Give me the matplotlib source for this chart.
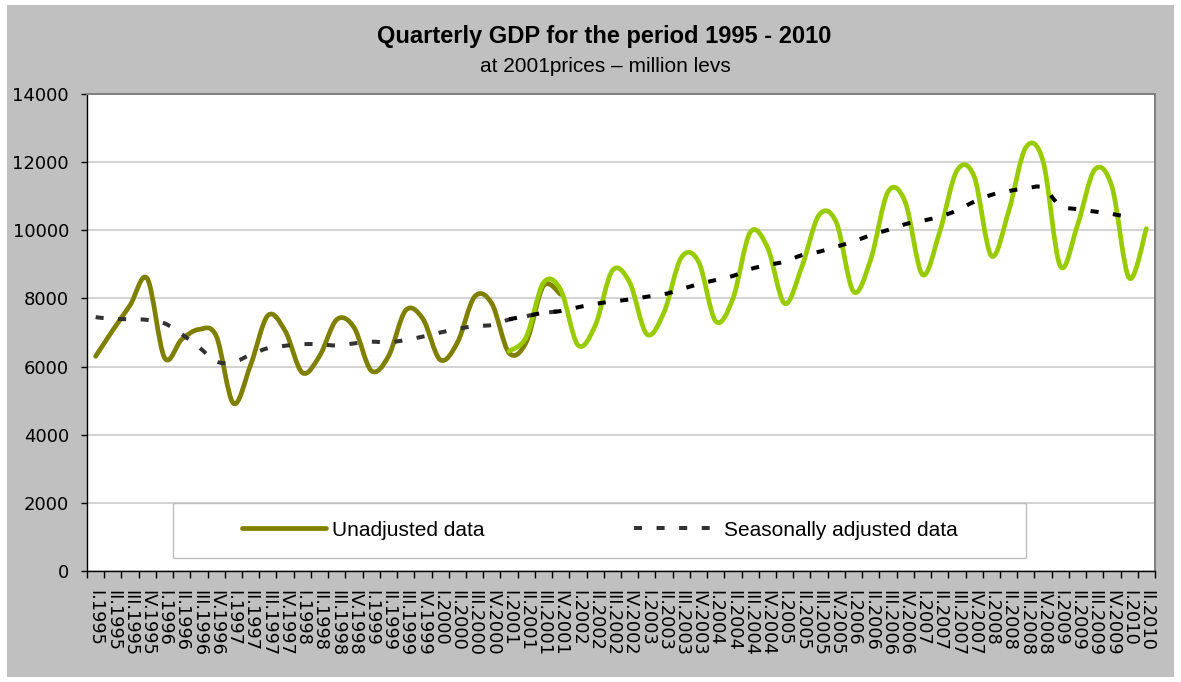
import numpy as np
import matplotlib
matplotlib.use("Agg")
import matplotlib.pyplot as plt
from matplotlib.path import Path
from matplotlib.patches import PathPatch, Rectangle
from matplotlib.lines import Line2D

# ---------------- data ----------------
years = list(range(1995, 2011))
roman = ["I", "II", "III", "IV"]
quarter_labels = [f"{r}.{y}" for y in years for r in roman][:62]  # I.1995 .. II.2010

# Unadjusted data, old methodology (I.1995 - IV.2001)
unadj_old = [6300, 7070, 7800, 8580,
             6260, 6800, 7090, 6900,
             4920, 6050, 7500, 7050,
             5820, 6310, 7380, 7150,
             5880, 6300, 7650, 7400,
             6200, 6700, 8050, 7850,
             6400, 6720, 8370, 8120]
# Unadjusted data, new series (I.2001 - II.2010)
unadj_new = [6450, 6870, 8460, 8250,
             6630, 7200, 8820, 8470,
             6950, 7600, 9200, 9080,
             7330, 8000, 9940, 9500,
             7850, 8930, 10450, 10230,
             8200, 9150, 11130, 10830,
             8700, 9950, 11750, 11580,
             9250, 10550, 12430, 12030,
             8950, 10150, 11780, 11280,
             8600, 10050]
# Seasonally adjusted, old (I.1995 - IV.2001)
sa_old = [7450, 7400, 7390, 7370,
          7270, 6950, 6570, 6150,
          6130, 6350, 6540, 6610,
          6660, 6650, 6620, 6680,
          6730, 6710, 6780, 6880,
          7000, 7100, 7190, 7220,
          7380, 7480, 7570, 7630]
# Seasonally adjusted, new (I.2001 - I.2010)
sa_new = [7390, 7480, 7580, 7630,
          7740, 7840, 7910, 7970,
          8050, 8120, 8270, 8420,
          8540, 8660, 8860, 8980,
          9080, 9270, 9370, 9520,
          9670, 9860, 10010, 10180,
          10280, 10400, 10580, 10840,
          11040, 11150, 11230, 11250,
          10720, 10620, 10550, 10480,
          10380]

start_old = 0    # I.1995
start_new = 24   # I.2001

legend_labels = ["Unadjusted data", "Seasonally adjusted data"]
title = "Quarterly GDP for the period 1995 - 2010"
subtitle = "at 2001prices \u2013 million levs"
yticks = [0, 2000, 4000, 6000, 8000, 10000, 12000, 14000]

# ---------------- helpers ----------------
def smooth_path(x, y):
    """Catmull-Rom style Bezier path through the points (like Excel's smoothed line)."""
    pts = np.column_stack([x, y]).astype(float)
    n = len(pts)
    verts = [pts[0]]
    codes = [Path.MOVETO]
    for i in range(n - 1):
        p0 = pts[i - 1] if i > 0 else pts[i]
        p1 = pts[i]
        p2 = pts[i + 1]
        p3 = pts[i + 2] if i + 2 < n else pts[i + 1]
        c1 = p1 + (p2 - p0) / 6.0
        c2 = p2 - (p3 - p1) / 6.0
        verts += [c1, c2, p2]
        codes += [Path.CURVE4] * 3
    return Path(verts, codes)

W, H = 1181, 682
fig = plt.figure(figsize=(W / 100, H / 100), dpi=100)
fig.patch.set_facecolor("white")
fig.patches.append(Rectangle((7 / W, 1 - 677 / H), (1174 - 7) / W, (677 - 5) / H,
                             transform=fig.transFigure, facecolor="#C0C0C0",
                             edgecolor="none", zorder=-10))

ax = fig.add_axes([87 / W, 1 - 571 / H, (1155 - 87) / W, (571 - 94) / H])
ax.set_facecolor("white")

OLIVE = "#808000"
GREEN = "#99CC00"
DARK = "#333333"
lw_main = 3.4
lw_dash = 2.9

def add_line(start, vals, color, lw, dashed=False, z=3):
    x = np.arange(start, start + len(vals))
    p = smooth_path(x, vals)
    kw = dict(facecolor="none", edgecolor=color, lw=lw, zorder=z)
    if dashed:
        kw.update(linestyle=(0, (2.0, 3.6)), capstyle="butt")
    else:
        kw.update(capstyle="round", joinstyle="round")
    ax.add_patch(PathPatch(p, **kw))

add_line(start_old, unadj_old, OLIVE, lw_main, z=3)
add_line(start_new, unadj_new, GREEN, lw_main, z=4)
add_line(start_old, sa_old, DARK, lw_dash, dashed=True, z=5)
add_line(start_new, sa_new, "black", lw_dash, dashed=True, z=6)

ax.set_xlim(-0.5, 61.5)
ax.set_ylim(0, 14000)

# y axis
ax.set_yticks(yticks)
ax.set_yticklabels([str(v) for v in yticks], fontsize=13, family="DejaVu Sans")
ax.tick_params(axis="y", direction="out", length=4, width=1, pad=9, colors="black")
ax.grid(axis="y", color="#C8C8C8", lw=1.1, zorder=0)
ax.set_axisbelow(True)

# x axis: labels at categories, tick marks at boundaries
ax.set_xticks(np.arange(62))
ax.set_xticklabels(quarter_labels, rotation=-90, fontsize=12.8, family="DejaVu Sans",
                   va="top", ha="center")
ax.set_xticks(np.arange(-0.5, 62, 1), minor=True)
ax.tick_params(axis="x", which="major", length=0, pad=14)
ax.tick_params(axis="x", which="minor", direction="out", length=5, width=1, color="black")

for s in ["left", "bottom"]:
    ax.spines[s].set_color("black")
    ax.spines[s].set_linewidth(1.0)
for s in ["top", "right"]:
    ax.spines[s].set_color("#808080")
    ax.spines[s].set_linewidth(1.4)

# titles
fig.text(604 / W, 1 - 36 / H, title, ha="center", va="center", fontsize=17,
         fontweight="bold", family="Liberation Sans")
fig.text(605 / W, 1 - 67 / H, subtitle, ha="center", va="center", fontsize=15,
         family="Liberation Sans")

# legend box
fig.patches.append(Rectangle((173 / W, 1 - 558 / H), (1026 - 173) / W, (558 - 503) / H,
                             transform=fig.transFigure, facecolor="white",
                             edgecolor="#BEBEBE", lw=1.0, zorder=20))
handles = [Line2D([], [], color=OLIVE, lw=lw_main, solid_capstyle="round"),
           Line2D([], [], color=DARK, lw=lw_dash, linestyle=(0, (2.0, 3.6)),
                  dash_capstyle="butt")]
leg = fig.legend(handles, legend_labels, loc="center", ncol=2, frameon=False,
                 bbox_to_anchor=(600 / W, 1 - 530 / H), bbox_transform=fig.transFigure,
                 prop={"family": "Liberation Sans", "size": 15},
                 handlelength=4.0, handletextpad=0.3, columnspacing=7.2)
leg.set_zorder(30)

fig.savefig("out.png", dpi=100, facecolor=fig.get_facecolor())
